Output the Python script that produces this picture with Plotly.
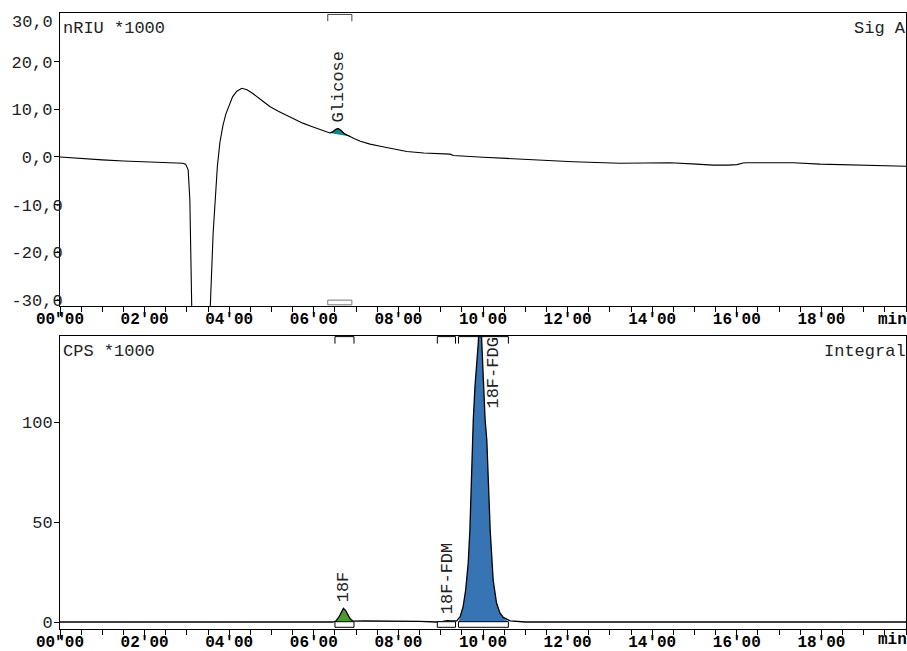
import plotly.graph_objects as go

# ---------------- data ----------------
# Refractive-index signal (Sig A), time in min, value in nRIU*1000
ri_time = [0.00, 0.50, 1.00, 1.50, 2.00, 2.50, 2.90, 2.97, 3.03, 3.07, 3.11, 3.20,
           3.45, 3.55, 3.62, 3.67, 3.72, 3.78, 3.85, 3.92, 4.00, 4.08, 4.18, 4.30,
           4.42, 4.56, 4.75, 4.96, 5.16, 5.36, 5.55, 5.74, 5.95, 6.15, 6.30, 6.38,
           6.45, 6.52, 6.58, 6.64, 6.72, 6.80, 6.86, 6.95, 7.10, 7.33, 7.60, 7.90,
           8.20, 8.60, 9.00, 9.22, 9.30, 9.46, 10.00, 10.56, 11.20, 12.13, 13.24,
           13.48, 14.00, 14.42, 15.05, 15.44, 15.80, 16.00, 16.15, 16.23, 16.78,
           17.33, 17.97, 18.75, 19.93, 20.00]
ri_value = [0.0, -0.35, -0.6, -0.85, -1.05, -1.2, -1.3, -1.5, -2.7, -9.0, -32.0, -75.0,
            -75.0, -32.0, -16.0, -8.0, -2.0, 3.0, 6.5, 9.0, 11.0, 12.6, 13.8, 14.4,
            14.1, 13.3, 12.0, 10.6, 9.6, 8.7, 7.9, 7.1, 6.4, 5.75, 5.3, 5.05,
            5.3, 5.8, 5.95, 5.6, 4.9, 4.5, 4.3, 3.9, 3.3, 2.7, 2.2, 1.6,
            1.15, 0.85, 0.7, 0.6, 0.3, 0.2, -0.05, -0.3, -0.6, -1.0, -1.3,
            -1.25, -1.15, -1.2, -1.5, -1.7, -1.7, -1.6, -1.25, -1.2, -1.2,
            -1.2, -1.5, -1.7, -1.9, -1.95]

# Radioactivity signal (Integral), CPS*1000
rad_time = [0.00, 6.45, 6.52, 6.58, 6.64, 6.70, 6.75, 6.80, 6.86, 6.93, 7.00, 7.20,
            8.50, 8.90, 9.05, 9.15, 9.25, 9.38, 9.46, 9.53, 9.59, 9.65, 9.69, 9.72,
            9.75, 9.77, 9.81, 9.85, 9.89, 9.93, 9.97, 10.01, 10.05, 10.09, 10.13,
            10.17, 10.24, 10.32, 10.40, 10.48, 10.64, 10.80, 11.00, 20.00]
rad_value = [0.0, 0.0, 0.5, 2.0, 4.3, 6.8, 5.8, 3.8, 1.6, 0.4, 0.5, 0.5,
             0.3, 0.0, 0.3, 0.7, 0.5, 0.6, 2.7, 7.7, 16.0, 29.5, 46.0, 68.0,
             91.0, 101.0, 117.7, 128.0, 140.0, 160.0, 140.0, 117.7, 101.0, 91.0, 70.0,
             46.0, 21.0, 9.5, 4.5, 2.3, 0.6, 0.2, 0.0, 0.0]

# Peak table of the RI trace
ri_peak_names = ["Glicose"]
ri_peak_start = [6.33]
ri_peak_end = [6.90]
ri_peak_apex = [6.58]

# Peak table of the radio trace
rad_peak_names = ["18F", "18F-FDM", "18F-FDG"]
rad_peak_start = [6.50, 8.92, 9.42]
rad_peak_end = [6.95, 9.35, 10.60]
rad_peak_apex = [6.70, 9.15, 9.93]

# axis ticks
x_tick_vals = [0, 2, 4, 6, 8, 10, 12, 14, 16, 18]
x_tick_text = ['00"00', "02'00", "04'00", "06'00", "08'00", "10'00",
               "12'00", "14'00", "16'00", "18'00"]
x_minor_vals = [i * 0.5 for i in range(41)]
ri_tick_vals = [20, 10, 0, -10, -20, -30]
ri_tick_text = ["20,0\u00a0", "10,0\u00a0", "0,0\u00a0", "-10,0", "-20,0", "-30,0"]
rad_tick_vals = [0, 50, 100]
rad_tick_text = ["0", "50", "100"]

# ---------------- styling ----------------
FONT = "Liberation Mono, Courier New, monospace"
FS = 17
XFS = 16
ri_colors = ["#148585"]
rad_colors = ["#4e9a2c", None, "#3674b4"]

fig = go.Figure()


def window(ts, vs, a, b):
    xs, ys = [], []
    for t, v in zip(ts, vs):
        if a <= t <= b:
            xs.append(t)
            ys.append(v)
    return xs, ys


# RI peak fill (baseline drawn from start to end of peak)
for i, name in enumerate(ri_peak_names):
    xs, ys = window(ri_time, ri_value, ri_peak_start[i], ri_peak_end[i])
    fig.add_trace(go.Scatter(x=xs, y=ys, fill="toself", fillcolor=ri_colors[i],
                             line=dict(color="black", width=0.8), mode="lines",
                             xaxis="x", yaxis="y", hoverinfo="skip", showlegend=False))

# radio peak fills
for i, name in enumerate(rad_peak_names):
    if rad_colors[i] is None:
        continue
    xs, ys = window(rad_time, rad_value, rad_peak_start[i], rad_peak_end[i])
    xs = [rad_peak_start[i]] + xs + [rad_peak_end[i]]
    ys = [0] + ys + [0]
    fig.add_trace(go.Scatter(x=xs, y=ys, fill="toself", fillcolor=rad_colors[i],
                             line=dict(color="rgba(0,0,0,0)", width=0),
                             mode="lines", xaxis="x2", yaxis="y2",
                             hoverinfo="skip", showlegend=False))

fig.add_trace(go.Scatter(x=ri_time, y=ri_value, mode="lines",
                         line=dict(color="black", width=1.1),
                         xaxis="x", yaxis="y", showlegend=False))
fig.add_trace(go.Scatter(x=rad_time, y=rad_value, mode="lines",
                         line=dict(color="black", width=1.3),
                         xaxis="x2", yaxis="y2", showlegend=False))

shapes = []
annotations = []

# brackets / baseline boxes for RI peaks
for i, name in enumerate(ri_peak_names):
    a, b = ri_peak_start[i], ri_peak_end[i]
    shapes.append(dict(type="path", xref="x", yref="y domain",
                       path=f"M {a},0.972 L {a},0.995 L {b},0.995 L {b},0.972",
                       line=dict(color="#444", width=1)))
    shapes.append(dict(type="rect", xref="x", yref="y domain", x0=a, x1=b,
                       y0=0.004, y1=0.02, line=dict(color="#777", width=1),
                       fillcolor="white"))
    annotations.append(dict(x=ri_peak_apex[i], y=max(window(ri_time, ri_value, a, b)[1]),
                            xref="x", yref="y", text=name, textangle=-90,
                            showarrow=False, yanchor="bottom", xanchor="center",
                            yshift=4, font=dict(family=FONT, size=FS, color="#222")))

# brackets / baseline boxes for radio peaks
for i, name in enumerate(rad_peak_names):
    a, b = rad_peak_start[i], rad_peak_end[i]
    shapes.append(dict(type="path", xref="x2", yref="y2 domain",
                       path=f"M {a},0.974 L {a},0.998 L {b},0.998 L {b},0.974",
                       line=dict(color="black", width=1)))
    shapes.append(dict(type="rect", xref="x2", yref="y2", x0=a, x1=b,
                       y0=-2.65, y1=0.15, line=dict(color="black", width=1),
                       fillcolor="white"))
    apex_v = max(window(rad_time, rad_value, a, b)[1])
    if apex_v < 140:
        annotations.append(dict(x=rad_peak_apex[i], y=apex_v, xref="x2", yref="y2",
                                text=name, textangle=-90, showarrow=False,
                                yanchor="bottom", xanchor="center", yshift=4,
                                font=dict(family=FONT, size=FS, color="#222")))
    else:
        annotations.append(dict(x=rad_peak_apex[i], y=1, xref="x2", yref="y2 domain",
                                text=name, textangle=-90, showarrow=False,
                                yanchor="top", xanchor="center", xshift=13, yshift=0,
                                font=dict(family=FONT, size=FS, color="#222")))

# corner labels
corner = [("nRIU *1000", "y domain", "x domain", 0, "left"),
          ("Sig A", "y domain", "x domain", 1, "right"),
          ("CPS *1000", "y2 domain", "x2 domain", 0, "left"),
          ("Integral", "y2 domain", "x2 domain", 1, "right")]
for text, yr, xr, xpos, xa in corner:
    annotations.append(dict(x=xpos, y=1, xref=xr, yref=yr, text=text,
                            showarrow=False, xanchor=xa, yanchor="middle",
                            yshift=-15, xshift=(1 if xa == "left" else 2),
                            font=dict(family=FONT, size=FS, color="#222")))
# 30,0 label (kept inside the frame as in the original)
annotations.append(dict(x=0, y=30, xref="x domain", yref="y", text="30,0",
                        showarrow=False, xanchor="right", yanchor="middle",
                        xshift=-5, yshift=-9, font=dict(family=FONT, size=FS, color="#222")))
# unit label at the end of the time axes
for yr, ys in [("y domain", -14), ("y2 domain", -11)]:
    annotations.append(dict(x=1, y=0, xref="x domain", yref=yr, text="<b>min</b>",
                            showarrow=False, xanchor="right", yanchor="middle",
                            yshift=ys, xshift=2, borderpad=0,
                            font=dict(family=FONT, size=XFS, color="black")))

xcommon = dict(range=[0, 20], showline=True, linecolor="black", linewidth=1,
               mirror=True, ticks="outside", ticklen=9, tickcolor="black",
               tickvals=x_tick_vals, ticktext=x_tick_text, showgrid=False,
               zeroline=False, automargin=False, ticklabelstandoff=-11,
               tickfont=dict(family=FONT, size=XFS, color="black", weight="bold"),
               minor=dict(tickmode="array", tickvals=x_minor_vals, ticks="outside",
                          ticklen=5, tickcolor="black", showgrid=False))

ycommon = dict(showline=True, linecolor="black", linewidth=1, mirror=True,
               ticks="outside", ticklen=5, tickcolor="black",
               showgrid=False, zeroline=False, automargin=False,
               tickfont=dict(family=FONT, size=FS, color="#222"))

fig.update_layout(
    template="none",
    width=907, height=651,
    margin=dict(l=60, r=1, t=13, b=22, autoexpand=False),
    paper_bgcolor="white", plot_bgcolor="white",
    showlegend=False,
    xaxis=dict(domain=[0, 1], anchor="y", **xcommon),
    xaxis2=dict(domain=[0, 1], anchor="y2", **xcommon),
    yaxis=dict(domain=[0.5244, 1], anchor="x", range=[-31.24, 30.19],
               tickvals=ri_tick_vals, ticktext=ri_tick_text,
               ticklabelstandoff=-12, **ycommon),
    yaxis2=dict(domain=[0, 0.4756], anchor="x2", range=[-3.5, 143],
                tickvals=rad_tick_vals, ticktext=rad_tick_text,
                ticklabelstandoff=-2, **ycommon),
    shapes=shapes,
    annotations=annotations,
)

fig.write_html("out.html")
